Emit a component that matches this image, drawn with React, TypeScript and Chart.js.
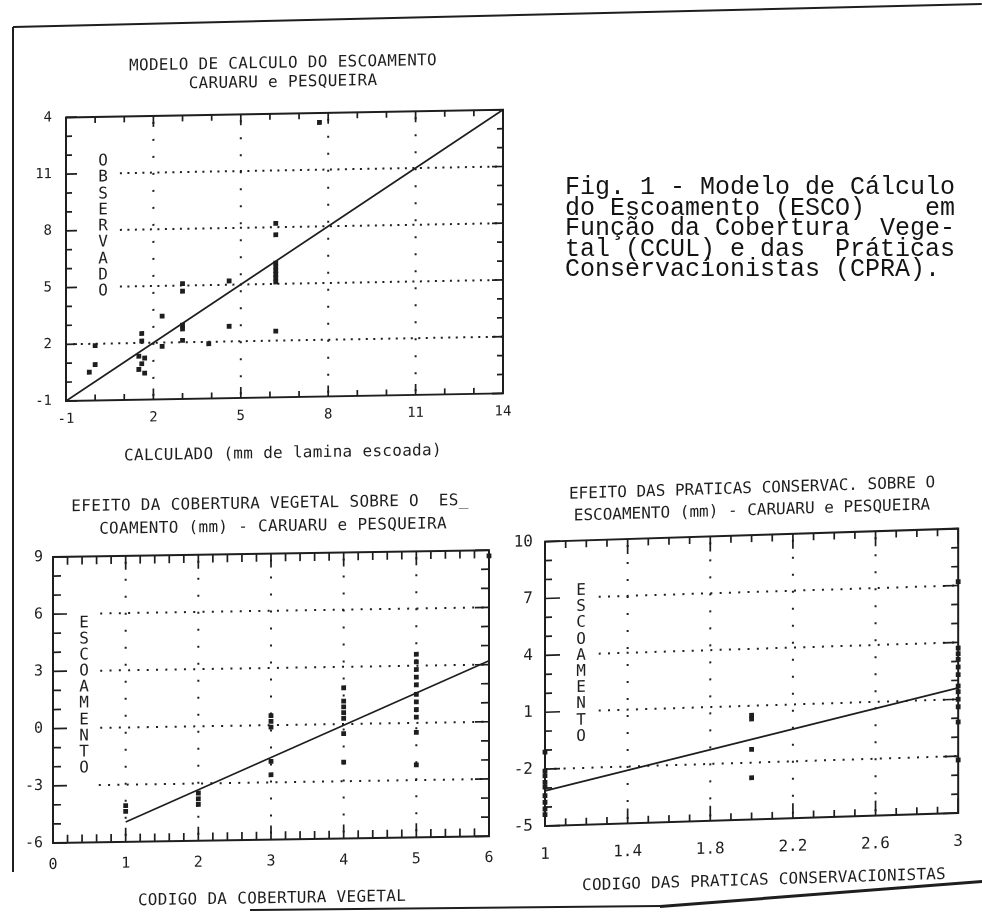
import React, { useEffect, useRef } from 'react';
import { Chart, registerables } from 'chart.js';

Chart.register(...registerables);

const INK = '#1e1e1e';
const PLOT_FONT = '"DejaVu Sans Mono", monospace';
const TYPE_FONT = '"Liberation Mono", "DejaVu Sans Mono", monospace';

// ---------- Chart 1: Modelo de calculo do escoamento ----------
const calc1 = [-0.2, 0.0, 0.0, 1.6, 1.6, 1.5, 1.7, 1.6, 1.5, 1.7, 2.3, 2.3, 3.0, 3.0, 3.0, 3.0, 3.0, 3.9, 4.6, 4.6, 6.2, 6.2, 6.2, 6.2, 6.2, 6.2, 6.2, 6.2, 6.2, 7.7];
const obs1 = [0.5, 0.9, 1.9, 2.5, 2.1, 1.3, 1.2, 0.9, 0.6, 0.4, 3.4, 1.8, 5.1, 4.7, 2.9, 2.7, 2.1, 1.9, 5.2, 2.8, 8.2, 7.6, 6.1, 5.9, 5.7, 5.5, 5.3, 5.1, 2.5, 13.5];
const fitX1 = [-1, 14];
const fitY1 = [-1, 14];
const xTicks1 = [-1, 2, 5, 8, 11, 14];
const xTickLabels1 = ['-1', '2', '5', '8', '11', '14'];
const yTicks1 = [-1, 2, 5, 8, 11, 14];
const yTickLabels1 = ['-1', '2', '5', '8', '11', '4'];

// ---------- Chart 2: Efeito da cobertura vegetal ----------
const ccul2 = [1, 1, 2, 2, 2, 3, 3, 3, 3, 3, 4, 4, 4, 4, 4, 4, 4, 5, 5, 5, 5, 5, 5, 5, 5, 5, 5, 5, 6];
const esco2 = [-4.1, -4.4, -3.5, -3.8, -4.1, 0.5, 0.2, -0.1, -1.9, -2.6, 1.9, 1.2, 0.9, 0.6, 0.3, -0.5, -2.0, 3.6, 3.2, 2.8, 2.4, 2.0, 1.5, 1.1, 0.7, 0.3, -0.5, -2.2, 8.7];
const fitX2 = [1, 6];
const fitY2 = [-4.96, 3.2];
const xTicks2 = [0, 1, 2, 3, 4, 5, 6];
const xTickLabels2 = ['0', '1', '2', '3', '4', '5', '6'];
const yTicks2 = [-6, -3, 0, 3, 6, 9];
const yTickLabels2 = ['-6', '-3', '0', '3', '6', '9'];

// ---------- Chart 3: Efeito das praticas conservacionistas ----------
const cpra3 = [1, 1, 1, 1, 1, 1, 1, 1, 1, 2, 2, 2, 2, 3, 3, 3, 3, 3, 3, 3, 3, 3, 3, 3, 3];
const esco3 = [-1.1, -2.1, -2.35, -2.7, -2.95, -3.4, -3.75, -4.1, -4.4, 0.5, 0.3, -1.3, -2.8, 7.2, 3.7, 3.4, 3.1, 2.7, 2.3, 1.7, 1.4, 1.0, 0.6, -0.2, -2.2];
const fitX3 = [1, 3];
const fitY3 = [-3.15, 1.6];
const xTicks3 = [1, 1.4, 1.8, 2.2, 2.6, 3];
const xTickLabels3 = ['1', '1.4', '1.8', '2.2', '2.6', '3'];
const yTicks3 = [-5, -2, 1, 4, 7, 10];
const yTickLabels3 = ['-5', '-2', '1', '4', '7', '10'];

const figLines = [
  'Fig. 1 - Modelo de Cálculo',
  'do Escoamento (ESCO)    em',
  'Função da Cobertura  Vege-',
  'tal (CCUL) e das  Práticas',
  'Conservacionistas (CPRA).',
];

function tickList(min: number, max: number, step: number, major: number) {
  const out: any[] = [];
  const n = Math.round((max - min) / step);
  for (let i = 0; i <= n; i++) {
    const v = min + i * step;
    const r = (v - min) / major;
    out.push({ v: v, major: Math.abs(r - Math.round(r)) < 1e-6 });
  }
  return out;
}

// skew applied inside the canvas (scan distortion), plus frame / inward ticks / dotted grid
function makeFramePlugin(cfg: any, shear: number, originX: number) {
  const xt = tickList(cfg.xMin, cfg.xMax, cfg.xMinor, cfg.xMajor);
  const yt = tickList(cfg.yMin, cfg.yMax, cfg.yMinor, cfg.yMajor);
  return {
    id: 'plotFrame',
    beforeDraw(chart: any) {
      const ctx = chart.ctx;
      ctx.save();
      ctx.transform(1, shear, 0, 1, 0, -shear * originX);
    },
    afterDraw(chart: any) {
      chart.ctx.restore();
    },
    beforeDatasetsDraw(chart: any) {
      const ctx = chart.ctx;
      const a = chart.chartArea;
      const xs = chart.scales.x;
      const ys = chart.scales.y;
      ctx.save();
      ctx.strokeStyle = INK;
      ctx.lineWidth = 2;
      ctx.setLineDash([2, cfg.vGap]);
      cfg.vGrid.forEach((v: number) => {
        const p = xs.getPixelForValue(v);
        ctx.beginPath();
        ctx.moveTo(p, a.top + 6);
        ctx.lineTo(p, a.bottom);
        ctx.stroke();
      });
      ctx.setLineDash([2, cfg.hGap]);
      cfg.hGrid.forEach((v: number, i: number) => {
        const p = ys.getPixelForValue(v);
        ctx.beginPath();
        ctx.moveTo(xs.getPixelForValue(cfg.hStart[i]), p);
        ctx.lineTo(a.right, p);
        ctx.stroke();
      });
      ctx.setLineDash([]);
      ctx.lineWidth = 1.7;
      xt.forEach((t: any) => {
        const p = xs.getPixelForValue(t.v);
        const L = t.major ? cfg.majorLen : cfg.minorLen;
        ctx.beginPath();
        ctx.moveTo(p, a.bottom);
        ctx.lineTo(p, a.bottom - L);
        ctx.moveTo(p, a.top);
        ctx.lineTo(p, a.top + L);
        ctx.stroke();
      });
      yt.forEach((t: any) => {
        const p = ys.getPixelForValue(t.v);
        const L = t.major ? cfg.majorLen : cfg.minorLen;
        ctx.beginPath();
        ctx.moveTo(a.left, p);
        ctx.lineTo(a.left + L, p);
        ctx.moveTo(a.right, p);
        ctx.lineTo(a.right - L, p);
        ctx.stroke();
      });
      ctx.lineWidth = 2;
      ctx.strokeRect(a.left, a.top, a.right - a.left, a.bottom - a.top);
      ctx.restore();
    },
  };
}

const panels = [
  {
    key: 'p1', skew: -1, ox: 66,
    canvas: { left: 16, top: 95, w: 514, h: 345 },
    yAxisW: 50, xAxisH: 39, padTop: 16, padRight: 27,
    xMin: -1, xMax: 14, yMin: -1, yMax: 14,
    xTicks: xTicks1, xTickLabels: xTickLabels1, yTicks: yTicks1, yTickLabels: yTickLabels1,
    tickFont: 14, xPad: 10, yPad: 14,
    px: calc1, py: obs1, fx: fitX1, fy: fitY1,
    frame: { xMin: -1, xMax: 14, yMin: -1, yMax: 14, vGrid: [2, 5, 8, 11], hGrid: [2, 5, 8, 11], hStart: [-0.75, 0.85, 0.85, 0.85], vGap: 15, hGap: 5.5, xMinor: 1, xMajor: 3, yMinor: 1, yMajor: 3, majorLen: 11, minorLen: 6 },
    titles: [
      { text: 'MODELO DE CALCULO DO ESCOAMENTO', cx: 283, cy: 66, ls: 0.3 },
      { text: 'CARUARU e PESQUEIRA', cx: 283, cy: 85, ls: 0.3 },
      { text: 'CALCULADO (mm de lamina escoada)', cx: 283, cy: 456, ls: 0.3 },
    ],
    vlabel: { text: 'OBSERVADO', cx: 103, top: 153, pitch: 16.3 },
  },
  {
    key: 'p2', skew: -0.9, ox: 53,
    canvas: { left: 10, top: 538, w: 500, h: 345 },
    yAxisW: 43, xAxisH: 40, padTop: 17, padRight: 21,
    xMin: 0, xMax: 6, yMin: -6, yMax: 9,
    xTicks: xTicks2, xTickLabels: xTickLabels2, yTicks: yTicks2, yTickLabels: yTickLabels2,
    tickFont: 15, xPad: 13, yPad: 10,
    px: ccul2, py: esco2, fx: fitX2, fy: fitY2,
    frame: { xMin: 0, xMax: 6, yMin: -6, yMax: 9, vGrid: [1, 2, 3, 4, 5], hGrid: [-3, 0, 3, 6], hStart: [0.63, 0.65, 0.65, 0.65], vGap: 15, hGap: 7.3, xMinor: 0.2, xMajor: 1, yMinor: 1, yMajor: 3, majorLen: 14, minorLen: 8 },
    titles: [
      { text: 'EFEITO DA COBERTURA VEGETAL SOBRE O  ES_', cx: 270, cy: 506, ls: 0.3 },
      { text: 'COAMENTO (mm) - CARUARU e PESQUEIRA', cx: 273, cy: 529, ls: 0.3 },
      { text: 'CODIGO DA COBERTURA VEGETAL', cx: 272, cy: 901, ls: 0.3 },
    ],
    vlabel: { text: 'ESCOAMENTO', cx: 84, top: 615, pitch: 16.1 },
  },
  {
    key: 'p3', skew: -1.8, ox: 545,
    canvas: { left: 495, top: 520, w: 487, h: 362 },
    yAxisW: 50, xAxisH: 56, padTop: 19, padRight: 9,
    xMin: 1, xMax: 3, yMin: -5, yMax: 10,
    xTicks: xTicks3, xTickLabels: xTickLabels3, yTicks: yTicks3, yTickLabels: yTickLabels3,
    tickFont: 16, xPad: 19, yPad: 12,
    px: cpra3, py: esco3, fx: fitX3, fy: fitY3,
    frame: { xMin: 1, xMax: 3, yMin: -5, yMax: 10, vGrid: [1.4, 1.8, 2.2, 2.6], hGrid: [-2, 1, 4, 7], hStart: [1.0, 1.26, 1.26, 1.26], vGap: 15, hGap: 7.3, xMinor: 0.1, xMajor: 0.4, yMinor: 1, yMajor: 3, majorLen: 15, minorLen: 7 },
    titles: [
      { text: 'EFEITO DAS PRATICAS CONSERVAC. SOBRE O', cx: 752, cy: 494, ls: 0 },
      { text: 'ESCOAMENTO (mm) - CARUARU e PESQUEIRA', cx: 752, cy: 516, ls: 0 },
      { text: 'CODIGO DAS PRATICAS CONSERVACIONISTAS', cx: 764, cy: 886, ls: 0.2 },
    ],
    vlabel: { text: 'ESCOAMENTO', cx: 581, top: 583, pitch: 16.2 },
  },
];

function Panel({ p }: { p: any }) {
  const ref = useRef<HTMLCanvasElement | null>(null);
  useEffect(() => {
    const canvas = ref.current;
    if (!canvas) return;
    const font = { family: PLOT_FONT, size: p.tickFont };
    const shear = Math.tan((p.skew * Math.PI) / 180);
    const chart = new Chart(canvas, {
      type: 'scatter',
      data: {
        datasets: [
          {
            data: p.px.map((x: number, i: number) => ({ x, y: p.py[i] })),
            pointStyle: 'rect',
            pointRadius: 3.4,
            pointHoverRadius: 3.4,
            pointBackgroundColor: INK,
            pointBorderColor: INK,
            pointBorderWidth: 0,
            clip: false,
          },
          {
            data: p.fx.map((x: number, i: number) => ({ x, y: p.fy[i] })),
            showLine: true,
            pointRadius: 0,
            pointHoverRadius: 0,
            borderColor: INK,
            borderWidth: 1.7,
            fill: false,
            clip: false,
          },
        ],
      } as any,
      options: {
        responsive: false,
        animation: false,
        events: [],
        layout: { padding: { top: p.padTop, right: p.padRight, left: 0, bottom: 0 } },
        plugins: { legend: { display: false }, tooltip: { enabled: false } },
        scales: {
          x: {
            type: 'linear',
            min: p.xMin,
            max: p.xMax,
            grid: { display: false, drawTicks: false },
            border: { display: false },
            afterBuildTicks: (s: any) => { s.ticks = p.xTicks.map((v: number) => ({ value: v })); },
            afterFit: (s: any) => { s.height = p.xAxisH; },
            ticks: {
              autoSkip: false, maxRotation: 0, minRotation: 0,
              padding: p.xPad, color: INK, font,
              callback: (_v: any, i: number) => p.xTickLabels[i],
            },
          },
          y: {
            type: 'linear',
            min: p.yMin,
            max: p.yMax,
            grid: { display: false, drawTicks: false },
            border: { display: false },
            afterBuildTicks: (s: any) => { s.ticks = p.yTicks.map((v: number) => ({ value: v })); },
            afterFit: (s: any) => { s.width = p.yAxisW; },
            ticks: {
              autoSkip: false,
              padding: p.yPad, color: INK, font,
              callback: (_v: any, i: number) => p.yTickLabels[i],
            },
          },
        },
      } as any,
      plugins: [makeFramePlugin(p.frame, shear, p.ox - p.canvas.left)],
    });
    return () => chart.destroy();
  }, [p]);

  return (
    <>
      <canvas
        ref={ref}
        width={p.canvas.w}
        height={p.canvas.h}
        style={{ position: 'absolute', left: p.canvas.left, top: p.canvas.top, width: p.canvas.w, height: p.canvas.h }}
      />
      <div
        style={{
          position: 'absolute', left: 0, top: 0, width: 982, height: 913,
          transform: `skewY(${p.skew}deg)`, transformOrigin: `${p.ox}px 0px`,
        }}
      >
        {p.titles.map((t: any, i: number) => (
          <div
            key={i}
            style={{
              position: 'absolute', left: t.cx, top: t.cy, transform: 'translate(-50%, -50%)',
              whiteSpace: 'pre', fontFamily: PLOT_FONT, fontSize: 16, lineHeight: '19px',
              letterSpacing: `${t.ls}px`, color: INK,
            }}
          >
            {t.text}
          </div>
        ))}
        <div
          style={{
            position: 'absolute', left: p.vlabel.cx - 10, top: p.vlabel.top, width: 20,
            whiteSpace: 'pre', textAlign: 'center', fontFamily: PLOT_FONT, fontSize: 16,
            lineHeight: `${p.vlabel.pitch}px`, color: INK,
          }}
        >
          {p.vlabel.text.split('').join('\n')}
        </div>
      </div>
    </>
  );
}

function Rule({ x1, y1, x2, y2, w }: { x1: number; y1: number; x2: number; y2: number; w: number }) {
  const len = Math.hypot(x2 - x1, y2 - y1);
  const ang = (Math.atan2(y2 - y1, x2 - x1) * 180) / Math.PI;
  return (
    <div
      style={{
        position: 'absolute', left: x1, top: y1 - w / 2, width: len, height: w,
        background: INK, transform: `rotate(${ang}deg)`, transformOrigin: `0px ${w / 2}px`,
      }}
    />
  );
}

export default function App() {
  return (
    <div style={{ position: 'absolute', left: 0, top: 0, width: 982, height: 913, background: '#fff', overflow: 'hidden' }}>
      <Rule x1={13} y1={27} x2={982} y2={4} w={2} />
      <Rule x1={13} y1={27} x2={13} y2={872} w={2} />
      <Rule x1={250} y1={910} x2={660} y2={906} w={2} />
      <Rule x1={660} y1={906} x2={982} y2={881} w={3} />
      {panels.map((p) => (
        <Panel key={p.key} p={p} />
      ))}
      <div
        style={{
          position: 'absolute', left: 565, top: 178, whiteSpace: 'pre',
          fontFamily: TYPE_FONT, fontSize: 25, lineHeight: '20.5px', color: '#141414',
        }}
      >
        {figLines.join('\n')}
      </div>
    </div>
  );
}
